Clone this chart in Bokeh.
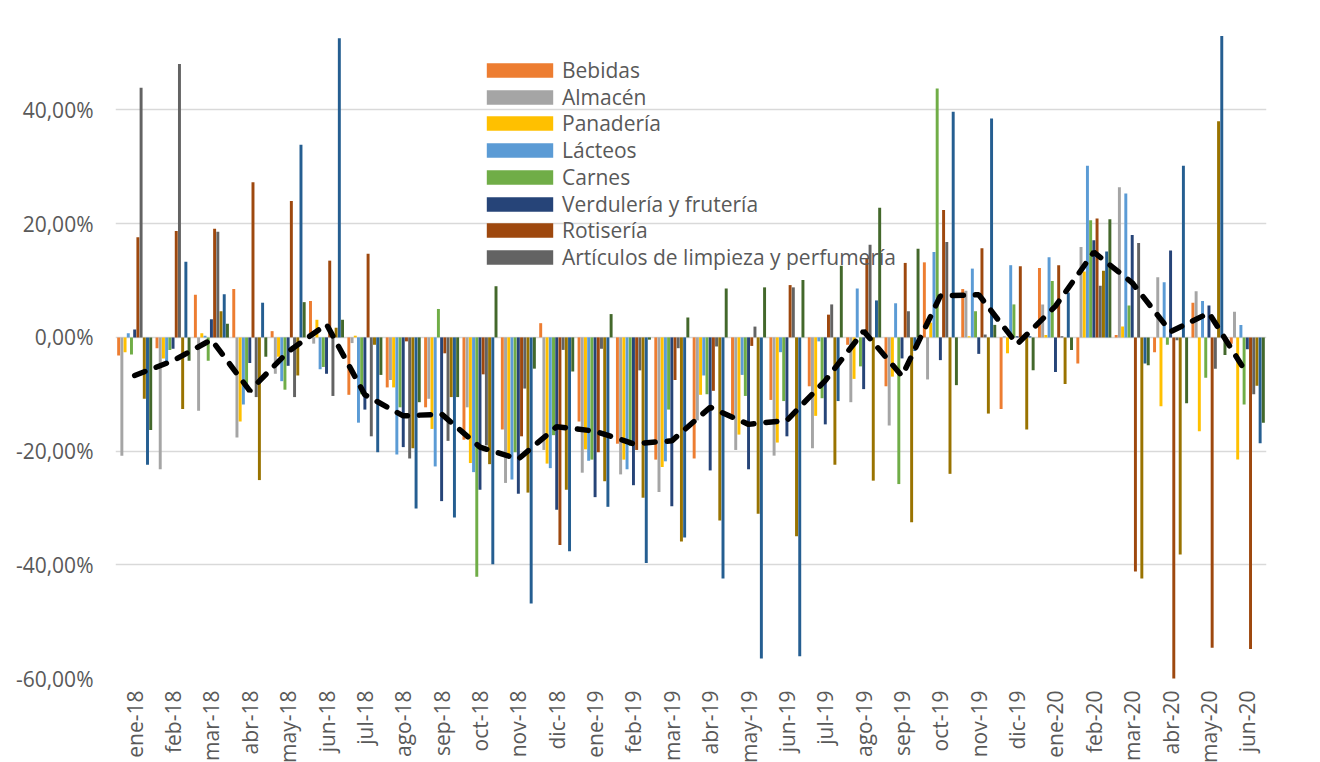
from math import pi
from bokeh.plotting import figure
from bokeh.models import (FactorRange, Range1d, FixedTicker, CustomJSTickFormatter,
                          Legend, LegendItem, ColumnDataSource)
from bokeh.transform import dodge
from bokeh.embed import file_html
from bokeh.resources import INLINE

months = ["ene-18", "feb-18", "mar-18", "abr-18", "may-18", "jun-18", "jul-18", "ago-18",
          "sep-18", "oct-18", "nov-18", "dic-18", "ene-19", "feb-19", "mar-19", "abr-19",
          "may-19", "jun-19", "jul-19", "ago-19", "sep-19", "oct-19", "nov-19", "dic-19",
          "ene-20", "feb-20", "mar-20", "abr-20", "may-20", "jun-20"]

bebidas = [-3.2, -1.9, 7.5, 8.5, 1.1, 6.4, -10.1, -8.8, -12.3, -18.0, -16.2, 2.5, -14.8, -18.7, -21.5,
           -21.3, -13.7, -11.0, -8.6, -1.3, -8.6, 13.2, 8.5, -12.6, 12.2, -4.6, 0.4, -2.6, 6.1, -1.1]
almacen = [-20.8, -23.2, -12.9, -17.6, -6.4, -1.1, -1.0, -7.5, -10.8, -12.3, -25.6, -19.8, -23.8, -24.1, -27.2,
           -14.6, -19.8, -20.8, -19.5, -11.4, -15.5, -7.4, 8.2, 0.2, 5.8, 15.9, 26.4, 10.6, 8.1, 4.5]
panaderia = [-2.6, -3.7, 0.75, -14.8, -3.4, 3.1, 0.3, -8.8, -16.1, -22.1, -20.6, -22.2, -19.7, -21.5, -22.8,
             -10.1, -17.1, -18.5, -13.8, -7.3, -6.9, 2.6, 0.2, -2.8, 0.4, 11.6, 1.9, -12.1, -16.5, -21.5]
lacteos = [0.75, -4.9, 0.3, -11.8, -7.7, -5.6, -15.0, -20.6, -22.7, -23.7, -25.0, -23.0, -21.7, -23.2, -21.8,
           -6.7, -6.6, -2.6, -0.7, 8.6, 6.0, 15.0, 12.1, 12.7, 14.1, 30.2, 25.3, 9.7, 6.4, 2.2]
carnes = [-3.0, -2.2, -4.1, -8.6, -9.2, -5.2, -10.0, -12.3, 5.0, -42.1, -20.2, -17.2, -21.5, -19.1, -12.7,
          -10.0, -10.3, -11.2, -10.7, -5.1, -25.8, 43.8, 4.6, 5.8, 9.9, 20.6, 5.6, -1.3, -7.1, -11.8]
verduleria = [1.4, -2.0, 3.2, -4.5, -5.0, -6.4, -12.7, -19.3, -28.8, -26.8, -27.5, -30.3, -28.1, -26.0, -29.7,
              -23.4, -23.2, -17.4, -15.3, -9.1, -3.7, -4.0, -2.9, 0.2, -6.1, 17.1, 18.0, 15.3, 5.6, -2.1]
rotiseria = [17.6, 18.7, 19.1, 27.3, 24.0, 13.5, 14.7, -0.7, -2.8, -6.5, -17.4, -36.5, -20.2, -19.8, -7.5,
             -9.4, -1.5, 9.2, 4.0, 13.8, 13.1, 22.4, 15.7, 12.5, 12.7, 20.9, -41.2, -60.5, -54.6, -54.8]
limpieza = [43.9, 48.1, 18.6, -10.5, -10.5, -10.3, -17.4, -21.3, -18.2, -19.0, -9.0, -2.2, -2.0, -5.8, -1.9,
            -1.6, 1.9, 8.8, 5.8, 16.3, 4.6, 16.8, 0.5, 0.3, 0.2, 9.1, 16.6, -0.5, -5.5, -10.0]
serie9 = [-10.8, -12.6, 4.6, -25.1, -6.7, 1.7, -1.3, -19.5, -10.5, -22.3, -27.3, -26.8, -25.3, -28.2, -35.9,
          -32.2, -31.0, -35.0, -22.4, -25.2, -32.5, -24.0, -13.4, -16.2, -8.2, 11.7, -42.4, -38.2, 38.0, -8.5]
serie10 = [-22.4, 13.3, 7.6, 6.1, 33.9, 52.6, -20.2, -30.1, -31.7, -39.9, -46.8, -37.6, -29.8, -39.7, -35.2,
           -42.4, -56.5, -56.1, -11.2, 6.5, -2.4, 39.7, 38.5, 0.2, 7.9, 15.1, -4.6, 30.2, 53.0, -18.6]
serie11 = [-16.3, -4.1, 2.4, -3.4, 6.2, 3.1, -6.6, -11.4, -10.5, 9.0, -5.5, -6.0, 4.1, -0.4, 3.5,
           8.6, 8.8, 10.1, 12.6, 22.8, 15.6, -8.4, 2.2, -5.8, -2.2, 20.8, -4.9, -11.6, -3.1, -15.0]
total = [-6.7, -4.1, -0.4, -9.4, -2.5, 2.3, -10.1, -13.8, -13.5, -19.3, -21.4, -15.7, -16.5, -18.7, -18.2,
         -12.3, -15.3, -14.6, -7.6, 1.1, -6.8, 7.3, 7.5, -1.2, 5.5, 15.0, 9.6, 1.0, 4.3, -6.5]

y_ticks = [-60, -40, -20, 0, 20, 40]

series = [
    ("Bebidas", bebidas, "#ED7D31"),
    ("Almacén", almacen, "#A5A5A5"),
    ("Panadería", panaderia, "#FFC000"),
    ("Lácteos", lacteos, "#5B9BD5"),
    ("Carnes", carnes, "#70AD47"),
    ("Verdulería y frutería", verduleria, "#264478"),
    ("Rotisería", rotiseria, "#9E480E"),
    ("Artículos de limpieza y perfumería", limpieza, "#636363"),
    ("Serie 9", serie9, "#997300"),
    ("Serie 10", serie10, "#255E91"),
    ("Serie 11", serie11, "#43682B"),
]
legend_count = 8

FONT = "Open Sans"
TXT = "#595959"

FRAME_H = 658
p = figure(x_range=FactorRange(*months, range_padding=0), y_range=Range1d(-60, 55.74),
           frame_width=1151, frame_height=FRAME_H, width=1304, height=754,
           min_border_left=115, min_border_right=38, min_border_top=20, min_border_bottom=76,
           output_backend="svg", toolbar_location=None)
p.outline_line_color = None
p.background_fill_color = "white"

n = len(series)
step = 1.0 / (n + 0.97)
legend_renderers = []
for i, (name, vals, col) in enumerate(series):
    src = ColumnDataSource(dict(month=months, v=vals))
    r = p.vbar(x=dodge("month", (i - (n - 1) / 2) * step, range=p.x_range), top="v", bottom=0,
               width=step * 0.92, source=src, fill_color=col, line_color=None)
    if i < legend_count:
        legend_renderers.append((name, r))

p.line(x=months, y=total, line_color="black", line_width=5.5, line_dash="11 12", line_cap="round")

p.yaxis.ticker = FixedTicker(ticks=y_ticks)
p.ygrid.ticker = FixedTicker(ticks=y_ticks)
p.ygrid.grid_line_color = "#D9D9D9"
p.ygrid.grid_line_width = 1.3
p.xgrid.grid_line_color = None
p.yaxis.formatter = CustomJSTickFormatter(code="return tick.toFixed(2).replace('.', ',') + '%';")
for ax in (p.xaxis[0], p.yaxis[0]):
    ax.axis_line_color = None
    ax.major_tick_line_color = None
    ax.minor_tick_line_color = None
    ax.major_tick_out = 0
    ax.major_tick_in = 0
    ax.major_label_text_font = FONT
    ax.major_label_text_font_size = "21px"
    ax.major_label_text_color = TXT
p.yaxis.major_label_standoff = 22
p.xaxis.major_label_orientation = pi / 2
p.xaxis.major_label_standoff = 12

# legend: one row per entry, rows 26.7 px apart, first row centred 50 px below frame top
row_gap = 26.7
first_row = 50
for k, (name, r) in enumerate(legend_renderers):
    centre_from_top = first_row + k * row_gap
    bottom_from_frame_bottom = FRAME_H - (centre_from_top + 14)
    lg = Legend(items=[LegendItem(label=name, renderers=[r])],
                location=(363, bottom_from_frame_bottom), orientation="vertical",
                glyph_width=83, glyph_height=18, label_standoff=1, spacing=0, padding=0, margin=0,
                label_text_font=FONT, label_text_font_size="21px", label_text_color=TXT,
                label_text_line_height=1.0, label_height=26,
                background_fill_alpha=0, border_line_color=None)
    p.add_layout(lg)

open("out.html", "w").write(file_html(p, INLINE))
